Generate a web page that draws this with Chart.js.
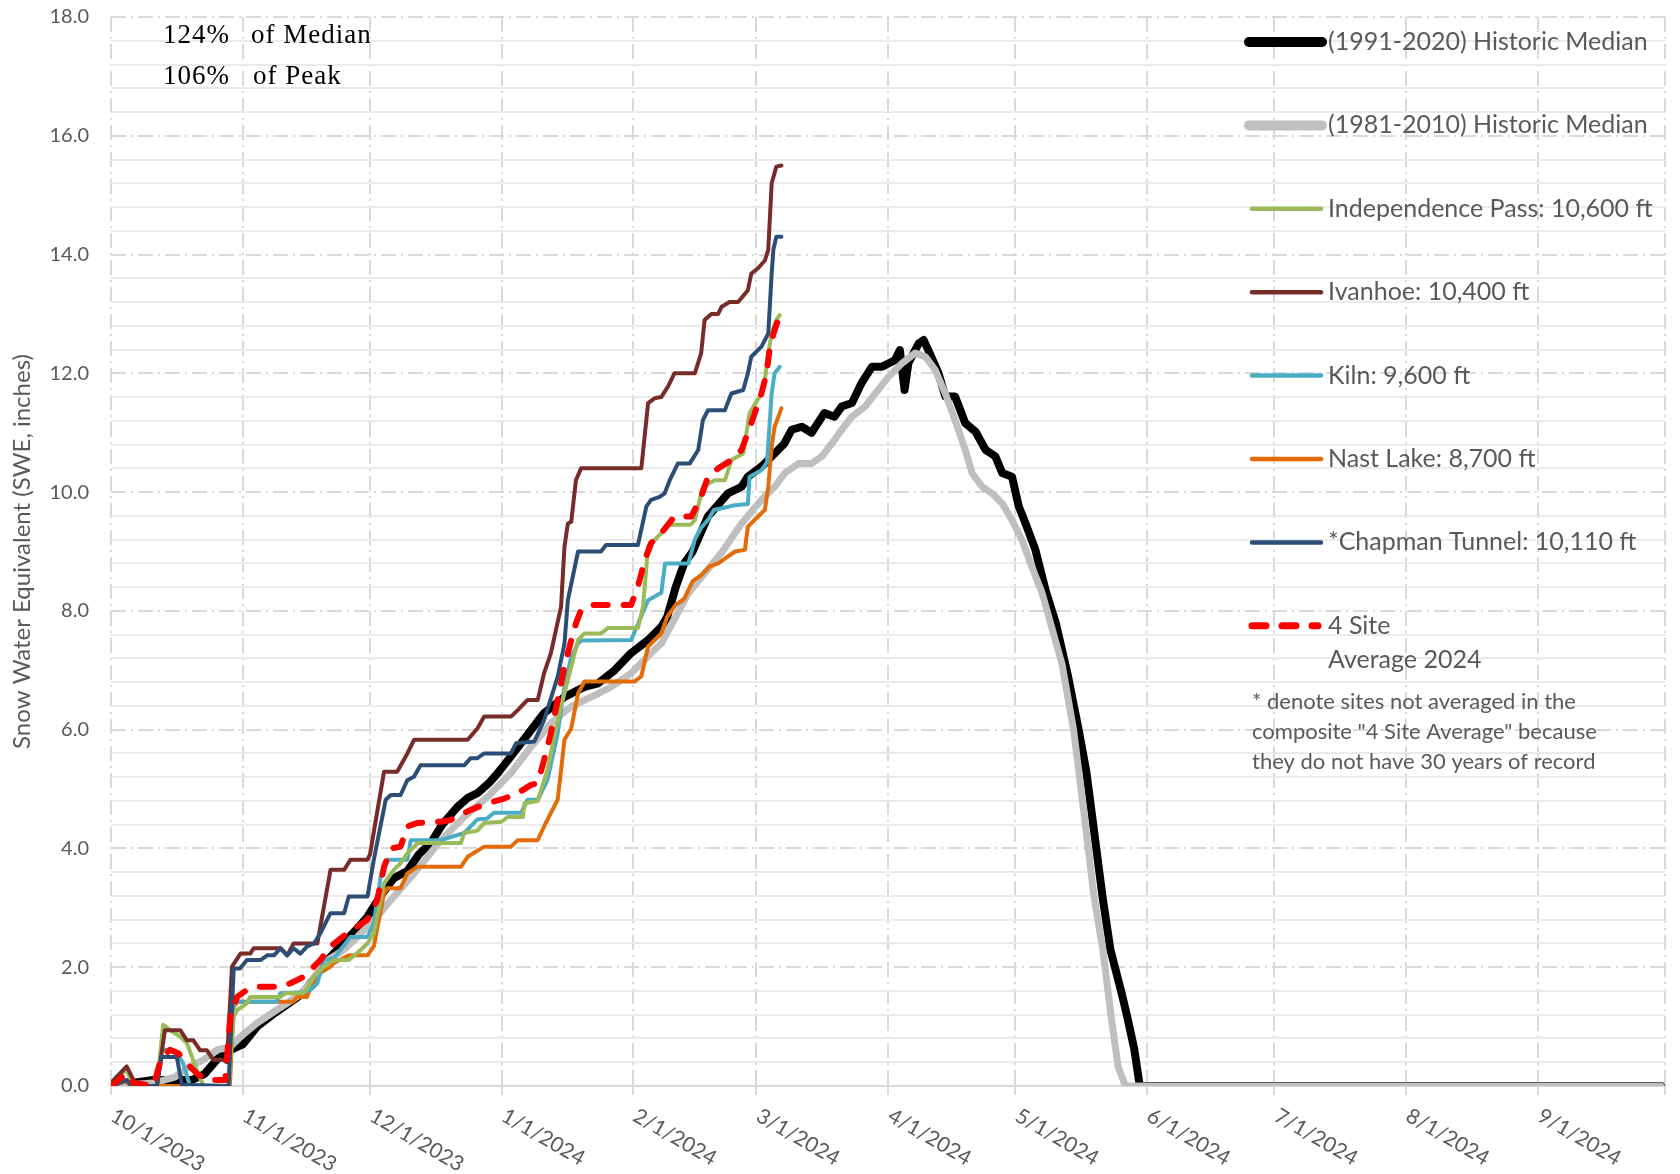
<!DOCTYPE html>
<html>
<head>
<meta charset="utf-8">
<script src="https://cdn.jsdelivr.net/npm/chart.js@4.4.1/dist/chart.umd.min.js"></script>
<style>
  html, body { margin: 0; padding: 0; background: #fff; }
  #wrap { width: 1680px; height: 1174px; position: relative; }
</style>
</head>
<body>
<div id="wrap"><canvas id="sweChart"></canvas></div>
<script>
// x values are days counted from 10/1/2023 (day 0); 10/1/2024 is day 366
const monthTicks = [0, 31, 61, 92, 123, 152, 183, 213, 244, 274, 305, 336, 366];
const monthLabels = ['10/1/2023', '11/1/2023', '12/1/2023', '1/1/2024', '2/1/2024', '3/1/2024',
  '4/1/2024', '5/1/2024', '6/1/2024', '7/1/2024', '8/1/2024', '9/1/2024', ''];

const seriesLabels = [
  '(1991-2020) Historic Median',
  '(1981-2010) Historic Median',
  'Independence Pass: 10,600 ft',
  'Ivanhoe: 10,400 ft',
  'Kiln: 9,600 ft',
  'Nast Lake: 8,700 ft',
  '*Chapman Tunnel: 10,110 ft',
  '4 Site\nAverage 2024'
];

const noteLines = [
  '* denote sites not averaged in the',
  'composite "4 Site Average" because',
  'they do not have 30 years of record'
];

// [day, SWE inches]
const median9120 = [[0,0],[5,0.05],[10,0.1],[15,0.1],[19,0.1],[22,0.2],[25,0.45],[28,0.6],[31,0.7],[34.4,1.0],
  [38,1.2],[42,1.4],[45,1.55],[47.8,1.8],[50.1,2.05],[54,2.35],[58,2.65],[60.4,2.85],[63.5,3.2],[66.6,3.5],
  [69.8,3.62],[72.5,3.9],[75.3,4.09],[78,4.4],[81.6,4.7],[84,4.85],[86.3,4.93],[89,5.1],[91.1,5.27],[94.2,5.55],
  [98.9,5.99],[102,6.28],[106.8,6.55],[111.5,6.72],[114.7,6.78],[118.6,7.0],[122.5,7.29],[126.5,7.51],[129.6,7.73],
  [131,7.9],[133,8.4],[135,8.8],[137,9.0],[140.6,9.59],[145.3,9.98],[148.5,10.09],[150,10.26],[153.2,10.43],
  [156.3,10.65],[158.6,10.82],[160.3,11.05],[162.7,11.1],[165,11.0],[168,11.33],[170.4,11.27],[172.1,11.44],
  [174.5,11.5],[176.8,11.84],[179.2,12.11],[181.5,12.11],[184.6,12.22],[185.8,12.39],[186.9,11.72],[187.8,12.17],
  [190.2,12.5],[191.4,12.56],[192.5,12.39],[194.9,12.0],[196.5,11.61],[198.8,11.61],[201.2,11.16],[203.6,11.02],
  [206,10.71],[208.3,10.6],[209.9,10.32],[212.2,10.26],[213.8,9.76],[215.4,9.47],[217.7,9.03],[220.1,8.35],
  [222.5,7.8],[225.4,6.9],[227.9,6.0],[229.7,5.3],[231.7,4.2],[233.5,3.2],[235.4,2.29],[238,1.57],[239.3,1.18],
  [241,0.62],[242.3,0],[365,0]];

const median8110 = [[0,0],[10,0.05],[15,0.15],[18.6,0.33],[22,0.45],[25,0.61],[28,0.65],[30.5,0.83],[34.4,1.06],
  [39,1.28],[43.8,1.5],[47,1.73],[50,2.07],[54.8,2.29],[58,2.51],[62.7,2.85],[65.9,3.13],[71.4,3.58],[77.7,4.14],
  [83.2,4.53],[88.7,4.87],[94.2,5.27],[98.9,5.71],[103.6,6.11],[108.4,6.39],[113.1,6.55],[117.8,6.72],[122.5,6.95],
  [127.2,7.29],[129.6,7.45],[133,7.9],[136,8.3],[140,8.65],[144,9.0],[148.5,9.47],[153.2,9.87],[156.3,10.09],
  [158.7,10.32],[161.9,10.48],[165,10.48],[167.4,10.6],[169.8,10.82],[172.1,11.05],[174.5,11.27],[177.6,11.44],
  [180,11.66],[183.1,11.94],[186.3,12.17],[189.4,12.34],[191.8,12.28],[194.1,12.06],[196.5,11.66],[198.8,11.21],
  [201.2,10.71],[202.8,10.32],[205.2,10.09],[207.5,9.98],[209.9,9.81],[212.2,9.53],[214.6,9.19],[216.9,8.74],
  [219.3,8.3],[224,7.1],[226.7,6.0],[229.2,4.57],[231.5,3.2],[233.6,2.29],[235.5,1.2],[237.2,0.33],[238.9,0],[365,0]];

const independencePass = [[0,0],[1.2,0.15],[3.7,0.27],[5.3,0],[10.8,0],[12.3,1.03],[13.9,0.94],[16.3,0.83],[17.9,0.72],
  [20.2,0.27],[21.8,0],[27.7,0],[28.9,1.17],[29.7,1.28],[32,1.39],[32.8,1.5],[39.9,1.5],[41,1.56],[45.4,1.56],
  [47.8,1.84],[50,2.0],[52.5,2.12],[56,2.12],[58.8,2.29],[60.4,2.4],[61.9,2.57],[64.3,3.41],[66.6,3.64],[68.2,3.75],
  [69.8,3.92],[71.4,4.03],[72.2,4.09],[82.4,4.09],[83.2,4.26],[86.3,4.3],[87.9,4.43],[92,4.45],[93.4,4.53],[97,4.53],
  [97.4,4.76],[100.5,4.8],[102.8,5.32],[104.4,5.89],[106,6.39],[108.4,7.06],[110,7.51],[111.5,7.62],[115.4,7.62],
  [117,7.71],[124.1,7.71],[125.3,8.07],[126.5,9.08],[129.6,9.31],[131,9.45],[136.5,9.45],[137.5,9.53],[139.4,10.09],
  [142.2,10.2],[144.6,10.2],[146.1,10.54],[148.9,10.65],[150.4,11.33],[153.2,11.66],[154,11.89],[154.8,12.34],
  [155.6,12.67],[156.7,12.9],[157.5,12.98]];

const ivanhoe = [[0,0.05],[3.7,0.33],[5.3,0.1],[6,0],[10.8,0],[12.7,0.94],[16.3,0.94],[17.9,0.77],[19.4,0.77],[21,0.6],
  [22.6,0.6],[24.1,0.44],[26.5,0.44],[27.3,0.4],[28.5,2.01],[30.5,2.23],[32.8,2.23],[33.6,2.32],[39.9,2.32],[41.5,2.2],
  [43,2.4],[48.6,2.4],[51.7,3.64],[54.9,3.64],[56.4,3.81],[60.4,3.81],[61,3.9],[64.3,5.29],[67.4,5.29],[69.8,5.6],
  [71.4,5.83],[84,5.83],[86.3,6.02],[87.9,6.22],[94.2,6.22],[95.8,6.33],[98.1,6.5],[100.5,6.5],[102,6.95],[103.6,7.29],
  [106,8.07],[106.8,9.08],[107.6,9.47],[108.4,9.5],[109.5,10.2],[110.7,10.4],[124.9,10.4],[126.5,11.5],[128,11.58],
  [129.6,11.6],[131.2,11.78],[132.7,12.0],[137.5,12.0],[139,12.34],[139.8,12.9],[141.4,13.0],[143,13.0],[143.8,13.12],
  [145.7,13.2],[147.7,13.2],[150,13.4],[150.8,13.68],[152.4,13.77],[154,13.9],[154.8,14.08],[155.6,15.2],[156.7,15.48],
  [157.9,15.5]];

const kiln = [[0,0],[3.7,0.1],[4.9,0],[10.8,0],[11.9,0.61],[13.1,0.61],[15.5,0.55],[17,0.38],[18.6,0],[27.7,0],
  [28.9,1.42],[39,1.42],[39.9,1.56],[45.4,1.58],[47,1.62],[48.6,1.73],[50.1,2.12],[52.5,2.15],[56.4,2.51],[60.4,2.51],
  [61.9,2.74],[63.5,3.52],[65.1,3.81],[69.8,3.81],[70.6,4.14],[77.7,4.14],[83.2,4.26],[86.3,4.49],[88.5,4.5],[90.2,4.6],
  [96.6,4.6],[98.1,4.82],[100.5,4.82],[102.8,5.15],[105.2,5.94],[106.8,6.72],[108.4,7.23],[110,7.45],[110.8,7.5],
  [122.5,7.51],[126.5,8.18],[128.8,8.27],[129.6,8.3],[130.5,8.8],[136,8.8],[137.5,9.2],[139,9.4],[140.8,9.55],
  [142,9.7],[146.9,9.78],[150,9.8],[150.4,10.26],[153.2,10.37],[154.5,10.5],[155.6,11.66],[156.3,12.0],[157.5,12.11]];

const nastLake = [[0,0],[3.3,0.08],[5,0],[28,0],[28.9,1.34],[30,1.42],[43,1.42],[43.8,1.5],[46.2,1.5],[47,1.67],
  [49.3,1.9],[51.7,2.01],[52.5,2.07],[56,2.2],[60.4,2.2],[61.9,2.35],[64.3,3.24],[65.1,3.33],[68.2,3.33],[69.8,3.58],
  [72.2,3.69],[82.4,3.69],[84,3.86],[87.9,4.03],[94.2,4.03],[95.8,4.14],[100.5,4.14],[102,4.37],[103.6,4.6],
  [105.2,4.82],[106,5.32],[106.8,5.83],[108.4,6.02],[110,6.61],[111.5,6.81],[123.3,6.81],[124.9,6.9],[126.5,7.4],
  [129.6,7.62],[131,7.9],[133,8.1],[135,8.2],[137,8.5],[139,8.6],[141,8.75],[143,8.8],[145,8.9],[147,9.0],
  [149.3,9.03],[150,9.42],[152.4,9.59],[154,9.7],[154.8,10.09],[155.6,10.77],[156.3,11.1],[157.9,11.41]];

const chapmanTunnel = [[0,0],[3.7,0.1],[4.9,0],[10.8,0],[11.9,0.49],[15.5,0.49],[16.7,0.02],[27.7,0],[28.9,1.98],
  [30.4,1.98],[32,2.12],[35.2,2.12],[36.8,2.2],[38.4,2.2],[39.9,2.32],[41.5,2.2],[43,2.32],[44.6,2.23],[46.2,2.35],
  [47.8,2.4],[49.3,2.57],[51.7,2.91],[54.9,2.91],[56,3.19],[60.4,3.19],[61.9,3.81],[64.7,4.82],[65.9,4.9],[68.2,4.9],
  [69.8,5.15],[71.4,5.21],[72.9,5.4],[83.2,5.4],[84.7,5.52],[86.3,5.52],[87.9,5.6],[94.2,5.6],[95.4,5.77],[99.7,5.8],
  [102,6.16],[105.2,6.89],[106.8,7.45],[107.6,8.18],[110,9.0],[115.4,9.0],[116.6,9.11],[124.1,9.11],[126.1,9.76],
  [127.2,9.87],[129.2,9.92],[130.4,9.98],[131.6,10.2],[133.5,10.48],[136.3,10.48],[138.3,10.71],[139.4,11.21],
  [140.6,11.38],[144.6,11.38],[146.1,11.66],[148.9,11.72],[150,12.0],[150.8,12.28],[153.2,12.45],[154.8,12.67],
  [155.6,13.68],[156,14.08],[156.7,14.3],[157.9,14.3]];

const siteAverage = [[0,0],[3.7,0.21],[5.3,0.05],[10,0],[11.9,0.49],[13.9,0.61],[15.9,0.55],[17.9,0.38],[20.2,0.21],
  [22.6,0.1],[26.9,0.1],[28.1,1.17],[29.7,1.5],[32,1.62],[34.4,1.67],[39.9,1.67],[42.3,1.73],[45.4,1.84],[49.3,2.12],
  [51.7,2.35],[55.6,2.57],[60.4,2.8],[62.7,3.13],[64.3,3.69],[66,4.0],[68.2,4.03],[69.8,4.37],[72.2,4.43],[77.7,4.45],
  [80,4.48],[84.7,4.65],[88.7,4.76],[92.6,4.84],[95.8,4.93],[98.9,5.07],[100.5,5.1],[102,5.49],[103.6,5.94],
  [105.2,6.5],[106.8,7.06],[108.4,7.51],[109.5,7.79],[110.7,8.01],[113.1,8.1],[122.5,8.1],[124.1,8.41],[125.7,8.85],
  [127.2,9.14],[129.6,9.31],[132.7,9.59],[136.7,9.59],[139,9.92],[140.6,10.26],[143,10.4],[146.1,10.54],[148.5,10.71],
  [150.8,11.16],[153.2,11.66],[154.4,12.0],[155.2,12.45],[156.3,12.73],[157.5,12.98]];

const seriesData = [median9120, median8110, independencePass, ivanhoe, kiln, nastLake, chapmanTunnel, siteAverage];
const seriesColors = ['#000000', '#BFBFBF', '#9BBB59', '#772C2A', '#4BACC6', '#E36C09', '#2C4D75', '#FF0000'];
const seriesWidths = [8, 7, 4, 4, 4, 4, 4, 6];
const seriesOrder = [7, 6, 3, 2, 4, 5, 1, 0];   // lower = drawn on top

const axisGray = '#595959';
const isMajor = v => Math.abs(v / 2 - Math.round(v / 2)) < 1e-6;

const datasets = seriesData.map((pts, i) => ({
  label: seriesLabels[i],
  data: pts.map(p => ({ x: p[0], y: p[1] })),
  borderColor: seriesColors[i],
  backgroundColor: seriesColors[i],
  borderWidth: seriesWidths[i],
  borderDash: i === 7 ? [14, 16] : [],
  borderCapStyle: 'round',
  borderJoinStyle: 'round',
  pointRadius: 0,
  tension: 0,
  fill: false,
  order: seriesOrder[i]
}));

const annotationPlugin = {
  id: 'pctText',
  afterDraw(chart) {
    const ctx = chart.ctx;
    ctx.save();
    ctx.font = '27px "Liberation Serif"';
    ctx.letterSpacing = '1px';
    ctx.fillStyle = '#000';
    ctx.textBaseline = 'middle';
    ctx.fillText('124%', 163, 36);
    ctx.fillText('of Median', 251, 36);
    ctx.fillText('106%', 163, 77);
    ctx.fillText('of Peak', 253, 77);
    ctx.restore();
  }
};

const xLabelPlugin = {
  id: 'xLabels',
  afterDraw(chart) {
    const ctx = chart.ctx;
    const x = chart.scales.x;
    ctx.save();
    ctx.font = '21px Lato';
    ctx.fillStyle = axisGray;
    ctx.textBaseline = 'top';
    ctx.textAlign = 'left';
    monthTicks.forEach((d, i) => {
      if (!monthLabels[i]) return;
      ctx.save();
      ctx.translate(x.getPixelForValue(d) + 7, chart.chartArea.bottom + 19);
      ctx.rotate(30 * Math.PI / 180);
      ctx.fillText(monthLabels[i], 0, 0);
      ctx.restore();
    });
    ctx.restore();
  }
};

const legendPlugin = {
  id: 'sideLegend',
  afterDraw(chart) {
    const ctx = chart.ctx;
    ctx.save();
    ctx.textBaseline = 'middle';
    chart.data.datasets.forEach((ds, i) => {
      const y = 42 + i * 83.4;
      ctx.beginPath();
      ctx.lineCap = 'round';
      ctx.strokeStyle = ds.borderColor;
      if (i < 2) {
        ctx.lineWidth = 10;
        ctx.setLineDash([]);
        ctx.moveTo(1249, y); ctx.lineTo(1322, y);
      } else if (i === 7) {
        ctx.lineWidth = 7;
        ctx.setLineDash([14, 16]);
        ctx.moveTo(1252, y); ctx.lineTo(1318, y);
      } else {
        ctx.lineWidth = 4.5;
        ctx.setLineDash([]);
        ctx.moveTo(1252, y); ctx.lineTo(1321, y);
      }
      ctx.stroke();
      ctx.setLineDash([]);
      ctx.font = '25px Lato';
      ctx.fillStyle = axisGray;
      ds.label.split('\n').forEach((line, k) => ctx.fillText(line, 1328, y + k * 34));
    });
    ctx.font = '22px Lato';
    noteLines.forEach((line, k) => ctx.fillText(line, 1252, 702 + k * 30));
    ctx.restore();
  }
};

new Chart(document.getElementById('sweChart'), {
  type: 'line',
  data: { datasets },
  plugins: [annotationPlugin, xLabelPlugin, legendPlugin],
  options: {
    responsive: true,
    maintainAspectRatio: false,
    animation: false,
    layout: { padding: { top: 17, right: 15, bottom: 0, left: 0 } },
    plugins: {
      legend: { display: false },
      tooltip: { enabled: false }
    },
    scales: {
      x: {
        type: 'linear',
        min: 0,
        max: 366,
        afterBuildTicks: s => { s.ticks = monthTicks.map(v => ({ value: v })); },
        afterFit: s => { s.height = 88; },
        ticks: { display: false },
        grid: {
          color: '#D9D9D9',
          lineWidth: 2,
          drawTicks: true,
          tickLength: 9,
          tickColor: '#D9D9D9',
          tickBorderDash: []
        },
        border: {
          display: true,
          color: '#D9D9D9',
          width: 2,
          dash: c => c.type === 'tick' ? [15, 5, 2, 5] : []
        }
      },
      y: {
        min: 0,
        max: 18,
        afterFit: s => { s.width = 111; s.paddingTop = 0; s.paddingBottom = 0; },
        ticks: {
          stepSize: 0.4,
          autoSkip: false,
          padding: 22,
          color: axisGray,
          font: { family: 'Lato', size: 20 },
          callback: v => isMajor(v) ? v.toFixed(1) : ''
        },
        grid: {
          drawTicks: false,
          lineWidth: 2,
          color: c => (c.tick && !isMajor(c.tick.value)) ? '#EBEBEB' : '#D9D9D9'
        },
        border: {
          display: false,
          dash: c => (c.tick && isMajor(c.tick.value) && c.tick.value > 0.01) ? [15, 5, 2, 5] : []
        },
        title: {
          display: true,
          text: 'Snow Water Equivalent (SWE, inches)',
          color: axisGray,
          font: { family: 'Lato', size: 24 },
          padding: { top: 8, bottom: 0 }
        }
      }
    }
  }
});
</script>
</body>
</html>
